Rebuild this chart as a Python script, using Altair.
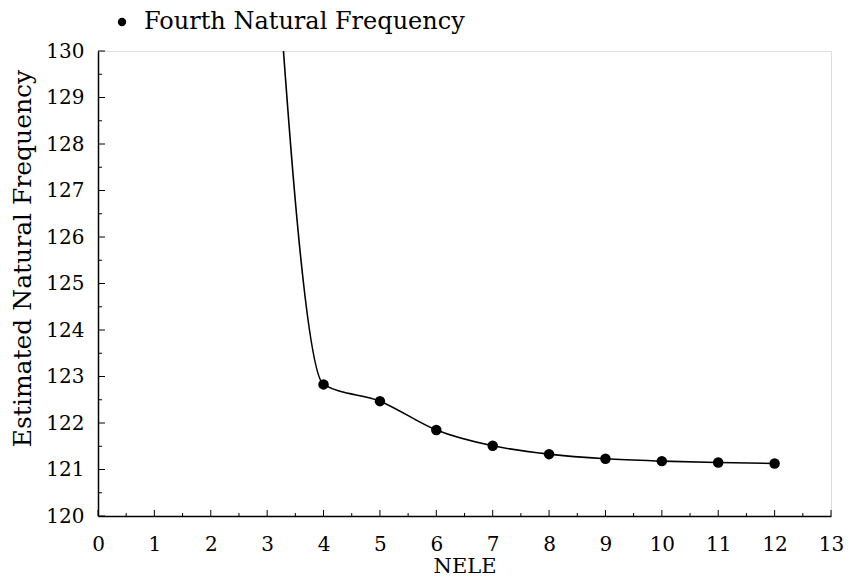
import altair as alt
import pandas as pd

# data
nele = [3, 4, 5, 6, 7, 8, 9, 10, 11, 12]
freq = [135.0, 122.83, 122.47, 121.85, 121.51, 121.33, 121.23, 121.18, 121.15, 121.13]
marker_nele = nele[1:]
marker_freq = freq[1:]
series_name = "Fourth Natural Frequency"

x_major = list(range(0, 14))
x_minor = [v + 0.5 for v in range(0, 13)]
y_major = list(range(120, 131))
y_minor = [v + 0.5 for v in range(120, 130)]

W, H = 733, 465
FONT = "DejaVu Serif"

df_line = pd.DataFrame({"nele": nele, "freq": freq})
df_pts = pd.DataFrame({"nele": marker_nele, "freq": marker_freq, "series": series_name})

xs = alt.Scale(domain=[0, 13], nice=False, zero=False)
ys = alt.Scale(domain=[120, 130], nice=False, zero=False)

x_axis = alt.Axis(values=x_major, format="d", ticks=False, grid=False, domainColor="black",
                  domainWidth=1.5, labelFont=FONT, labelFontSize=20, labelColor="black",
                  labelPadding=18, title="NELE", titleFont=FONT, titleFontSize=21,
                  titleFontWeight="normal", titleColor="black", titlePadding=1,
                  labelFlush=False)
y_axis = alt.Axis(values=y_major, format="d", ticks=False, grid=False, domainColor="black",
                  domainWidth=1.5, labelFont=FONT, labelFontSize=20, labelColor="black",
                  labelPadding=14, title="Estimated Natural Frequency", titleFont=FONT,
                  titleFontSize=25, titleFontWeight="normal", titleColor="black",
                  titlePadding=10, titleY=207, labelFlush=False)

line = alt.Chart(df_line).mark_line(interpolate="monotone", clip=True, color="black",
                                    strokeWidth=1.6).encode(
    x=alt.X("nele:Q", scale=xs, axis=x_axis),
    y=alt.Y("freq:Q", scale=ys, axis=y_axis),
)

points = alt.Chart(df_pts).mark_point(filled=True, size=110, opacity=1).encode(
    x=alt.X("nele:Q", scale=xs),
    y=alt.Y("freq:Q", scale=ys),
    color=alt.Color("series:N", scale=alt.Scale(range=["black"]),
                    legend=alt.Legend(orient="none", legendX=12, legendY=-41, title=None,
                                      labelFont=FONT, labelFontSize=24, labelColor="black",
                                      labelLimit=0, symbolSize=70, symbolType="circle",
                                      padding=0, labelOffset=10)),
)

df_xmaj = pd.DataFrame({"v": x_major})
df_xmin = pd.DataFrame({"v": x_minor})
df_ymaj = pd.DataFrame({"v": y_major})
df_ymin = pd.DataFrame({"v": y_minor})

xt_major = alt.Chart(df_xmaj).mark_rule(color="black", strokeWidth=1).encode(
    x=alt.X("v:Q", scale=xs), y=alt.value(H), y2=alt.value(H - 6))
xt_minor = alt.Chart(df_xmin).mark_rule(color="black", strokeWidth=1).encode(
    x=alt.X("v:Q", scale=xs), y=alt.value(H), y2=alt.value(H - 3))
yt_major = alt.Chart(df_ymaj).mark_rule(color="black", strokeWidth=1).encode(
    y=alt.Y("v:Q", scale=ys), x=alt.value(0), x2=alt.value(7))
yt_minor = alt.Chart(df_ymin).mark_rule(color="black", strokeWidth=1).encode(
    y=alt.Y("v:Q", scale=ys), x=alt.value(0), x2=alt.value(4))

chart = alt.layer(xt_major, xt_minor, yt_major, yt_minor, line, points).properties(
    width=W, height=H,
    autosize=alt.AutoSizeParams(type="none"),
    padding={"left": 98, "top": 51, "right": 19, "bottom": 63},
).configure_view(stroke=None).configure(background="white")

chart.save("out.html", embed_options={"renderer": "svg", "actions": False})
